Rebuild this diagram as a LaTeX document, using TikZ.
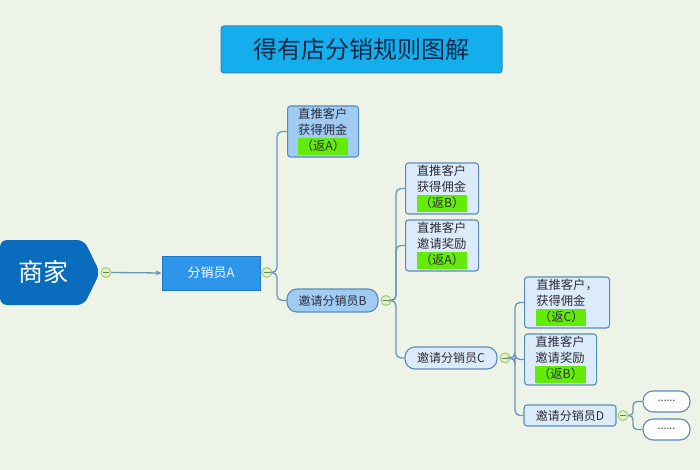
\documentclass[tikz,border=0pt]{standalone}
\usepackage{fontspec}
\usepackage{xcolor}
\newfontfamily\cjk{Noto Sans CJK SC}
\usetikzlibrary{arrows.meta,calc}
\definecolor{bg}{RGB}{238,243,232}
\definecolor{titlefill}{RGB}{20,174,236}
\definecolor{titledraw}{RGB}{40,140,200}
\definecolor{titletext}{RGB}{16,40,70}
\definecolor{merch}{RGB}{10,108,188}
\definecolor{afill}{RGB}{45,150,235}
\definecolor{adraw}{RGB}{30,120,200}
\definecolor{midfill}{RGB}{160,204,243}
\definecolor{lightfill}{RGB}{220,235,250}
\definecolor{boxdraw}{RGB}{90,140,185}
\definecolor{conn}{RGB}{105,150,185}
\definecolor{hl}{RGB}{100,235,10}
\definecolor{txt}{RGB}{45,45,55}
\definecolor{cfill}{RGB}{225,240,200}
\definecolor{cdraw}{RGB}{150,195,110}
\newcommand\hlt[1]{{\setlength{\fboxsep}{0.6pt}\colorbox{hl}{\strut\,#1\,}}}
\tikzset{
  conn/.style={draw=conn,line width=1.3pt,rounded corners=5pt},
  tbox/.style={draw=boxdraw,line width=1.1pt,rounded corners=3pt,font=\cjk\fontsize{12.3}{16}\selectfont,text=txt,align=left,inner xsep=8pt,inner ysep=0pt,anchor=west},
  midbox/.style={tbox,fill=midfill},
  litebox/.style={tbox,fill=lightfill},
  pillb/.style={draw=boxdraw,line width=1.1pt,rounded corners=10pt,font=\cjk\fontsize{12}{14}\selectfont,text=txt,inner sep=0pt},
  collapse/.style={circle,draw=cdraw,fill=cfill,line width=0.8pt,minimum size=10pt,inner sep=0pt,
    path picture={\draw[cdraw!70!black,line width=0.6pt] ([xshift=-2.8pt]path picture bounding box.center) -- ([xshift=2.8pt]path picture bounding box.center);}},
}
\begin{document}
\begin{tikzpicture}[x=1pt,y=-1pt]
\fill[bg] (0,0) rectangle (700,470);
\useasboundingbox (0,0) rectangle (700,470);
% title
\node[draw=titledraw,fill=titlefill,line width=1pt,rounded corners=3pt,minimum width=281pt,minimum height=47pt,font=\cjk\fontsize{24}{28}\selectfont,text=titletext] (title) at (361.5,49.5) {得有店分销规则图解};
% merchant
\fill[merch,rounded corners=7pt] (0,240) -- (84,240) -- (100,272.5) -- (84,305) -- (0,305) -- cycle;
\node[font=\cjk\fontsize{25}{28}\selectfont,text=white] (m) at (43,272) {商家};
\node[collapse] (cM) at (106,272.5) {};
% A
\node[draw=adraw,fill=afill,line width=0.8pt,minimum width=98pt,minimum height=34pt,font=\cjk\fontsize{13}{15}\selectfont,text=white] (A) at (211,273) {分销员A};
\draw[conn,-{Stealth[length=6pt,width=5pt]}] (cM.east) -- (A.west);
\node[collapse] (cA) at (267,272.5) {};
% level 1
\node[midbox,minimum width=71pt,minimum height=51pt] (b1) at (287,131.5) {直推客户\\获得佣金\\\hlt{（返A）}};
\node[pillb,fill=midfill,minimum width=91pt,minimum height=23pt] (B) at (332.5,300.5) {邀请分销员B};
\draw[conn] (cA.east) -- (277,272.5) |- (b1.west);
\draw[conn] (cA.east) -- (277,272.5) |- (B.west);
\node[collapse] (cB) at (386,300.5) {};
% level 2
\node[litebox,minimum width=73pt,minimum height=51pt] (B1) at (405,188.5) {直推客户\\获得佣金\\\hlt{（返B）}};
\node[litebox,minimum width=73pt,minimum height=51pt] (B2) at (405,245.5) {直推客户\\邀请奖励\\\hlt{（返A）}};
\node[pillb,fill=lightfill,minimum width=92pt,minimum height=22pt] (C) at (451,358) {邀请分销员C};
\draw[conn] (cB.east) -- (396,300.5) |- (B1.west);
\draw[conn] (cB.east) -- (396,300.5) |- (B2.west);
\draw[conn] (cB.east) -- (396,300.5) |- (C.west);
\node[collapse] (cC) at (505,358) {};
% level 3
\node[litebox,minimum width=85pt,minimum height=51pt] (C1) at (524,302.5) {直推客户，\\获得佣金\\\hlt{（返C）}};
\node[litebox,minimum width=72pt,minimum height=51pt] (C2) at (524,359.5) {直推客户\\邀请奖励\\\hlt{（返B）}};
\node[draw=boxdraw,fill=lightfill,line width=1.1pt,rounded corners=3pt,font=\cjk\fontsize{12}{14}\selectfont,text=txt,inner sep=0pt,minimum width=92pt,minimum height=21pt] (D) at (570,415.5) {邀请分销员D};
\draw[conn] (cC.east) -- (515,358) |- (C1.west);
\draw[conn] (cC.east) -- (515,358) |- (C2.west);
\draw[conn] (cC.east) -- (515,358) |- (D.west);
\node[collapse] (cD) at (623,415.5) {};
% level 4
\node[pillb,fill=white,minimum width=47pt,minimum height=21pt,font=\bfseries\fontsize{9}{9}\selectfont,text=txt] (E1) at (666.5,401.5) {\raisebox{2pt}{......}};
\node[pillb,fill=white,minimum width=47pt,minimum height=21pt,font=\bfseries\fontsize{9}{9}\selectfont,text=txt] (E2) at (666.5,429.5) {\raisebox{2pt}{......}};
\draw[conn,rounded corners=4pt] (cD.east) -- (633,415.5) |- (E1.west);
\draw[conn,rounded corners=4pt] (cD.east) -- (633,415.5) |- (E2.west);
\end{tikzpicture}
\end{document}
